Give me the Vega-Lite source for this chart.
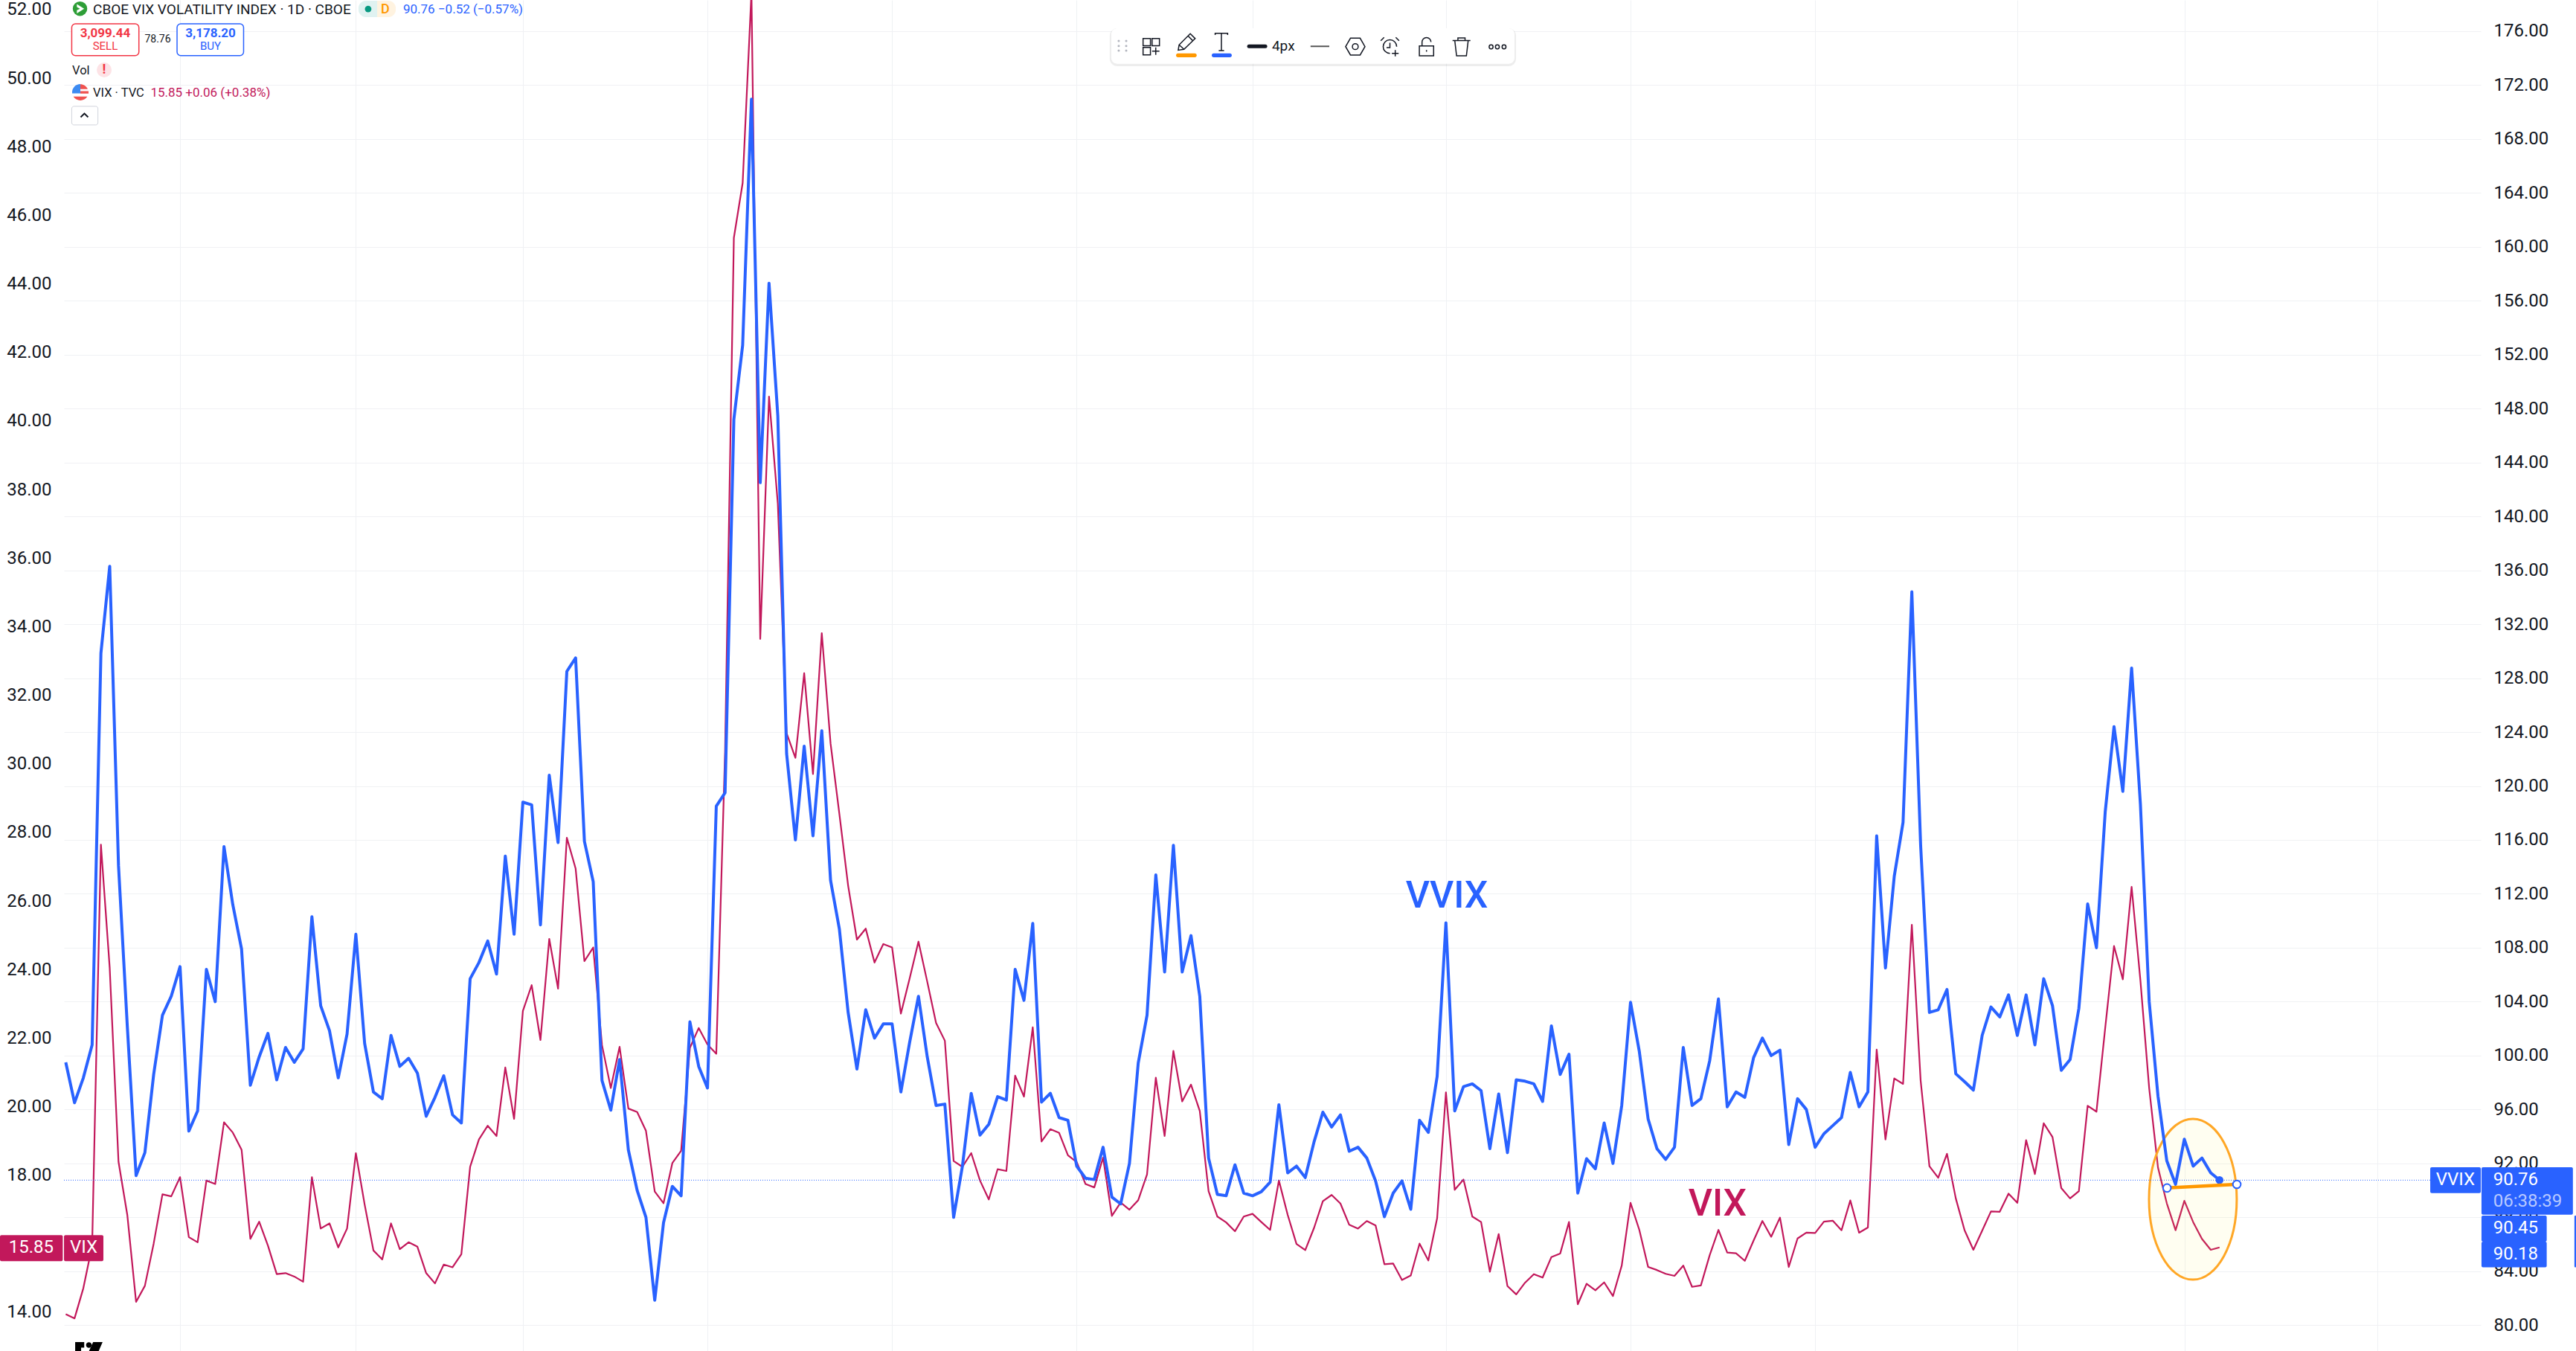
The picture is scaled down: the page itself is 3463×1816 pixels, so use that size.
{"$schema":"https://vega.github.io/schema/vega-lite/v6.json","width":3249,"height":1816,"autosize":{"type":"none"},"padding":{"left":86,"right":128,"top":0,"bottom":0},"background":"#ffffff","config":{"view":{"stroke":null},"text":{"font":"Roboto"}},
"datasets":{
"vvix":[{"t":0,"v":99.5},{"t":1,"v":96.5},{"t":2,"v":98.35},{"t":3,"v":100.8},{"t":4,"v":129.85},{"t":5,"v":136.3},{"t":6,"v":114.1},{"t":7,"v":102.2},{"t":8,"v":91.1},{"t":9,"v":92.8},{"t":10,"v":98.6},{"t":11,"v":103.0},{"t":12,"v":104.4},{"t":13,"v":106.6},{"t":14,"v":94.4},{"t":15,"v":95.9},{"t":16,"v":106.4},{"t":17,"v":104.0},{"t":18,"v":115.5},{"t":19,"v":111.2},{"t":20,"v":107.9},{"t":21,"v":97.8},{"t":22,"v":99.9},{"t":23,"v":101.65},{"t":24,"v":98.2},{"t":25,"v":100.6},{"t":26,"v":99.5},{"t":27,"v":100.5},{"t":28,"v":110.3},{"t":29,"v":103.7},{"t":30,"v":101.85},{"t":31,"v":98.35},{"t":32,"v":101.6},{"t":33,"v":109.0},{"t":34,"v":100.9},{"t":35,"v":97.3},{"t":36,"v":96.8},{"t":37,"v":101.5},{"t":38,"v":99.2},{"t":39,"v":99.8},{"t":40,"v":98.7},{"t":41,"v":95.5},{"t":42,"v":96.9},{"t":43,"v":98.5},{"t":44,"v":95.6},{"t":45,"v":95.0},{"t":46,"v":105.7},{"t":47,"v":106.9},{"t":48,"v":108.5},{"t":49,"v":106.05},{"t":50,"v":114.8},{"t":51,"v":109.0},{"t":52,"v":118.8},{"t":53,"v":118.6},{"t":54,"v":109.7},{"t":55,"v":120.8},{"t":56,"v":115.8},{"t":57,"v":128.5},{"t":58,"v":129.5},{"t":59,"v":115.9},{"t":60,"v":112.9},{"t":61,"v":98.15},{"t":62,"v":95.95},{"t":63,"v":99.7},{"t":64,"v":93.0},{"t":65,"v":90.0},{"t":66,"v":88.0},{"t":67,"v":81.85},{"t":68,"v":87.6},{"t":69,"v":90.3},{"t":70,"v":89.6},{"t":71,"v":102.5},{"t":72,"v":99.2},{"t":73,"v":97.6},{"t":74,"v":118.5},{"t":75,"v":119.5},{"t":76,"v":147.2},{"t":77,"v":152.7},{"t":78,"v":170.95},{"t":79,"v":142.5},{"t":80,"v":157.3},{"t":81,"v":147.45},{"t":82,"v":122.4},{"t":83,"v":116.0},{"t":84,"v":122.95},{"t":85,"v":116.3},{"t":86,"v":124.1},{"t":87,"v":113.0},{"t":88,"v":109.4},{"t":89,"v":103.2},{"t":90,"v":99.0},{"t":91,"v":103.4},{"t":92,"v":101.3},{"t":93,"v":102.35},{"t":94,"v":102.35},{"t":95,"v":97.3},{"t":96,"v":101.0},{"t":97,"v":104.4},{"t":98,"v":99.9},{"t":99,"v":96.3},{"t":100,"v":96.4},{"t":101,"v":88.0},{"t":102,"v":91.8},{"t":103,"v":97.2},{"t":104,"v":94.1},{"t":105,"v":94.9},{"t":106,"v":96.95},{"t":107,"v":96.7},{"t":108,"v":106.4},{"t":109,"v":104.1},{"t":110,"v":109.8},{"t":111,"v":96.55},{"t":112,"v":97.2},{"t":113,"v":95.4},{"t":114,"v":95.2},{"t":115,"v":91.8},{"t":116,"v":90.9},{"t":117,"v":90.8},{"t":118,"v":93.2},{"t":119,"v":89.5},{"t":120,"v":89.0},{"t":121,"v":92.0},{"t":122,"v":99.45},{"t":123,"v":103.0},{"t":124,"v":113.4},{"t":125,"v":106.2},{"t":126,"v":115.6},{"t":127,"v":106.2},{"t":128,"v":108.9},{"t":129,"v":104.4},{"t":130,"v":92.4},{"t":131,"v":89.7},{"t":132,"v":89.6},{"t":133,"v":91.9},{"t":134,"v":89.8},{"t":135,"v":89.6},{"t":136,"v":89.9},{"t":137,"v":90.6},{"t":138,"v":96.35},{"t":139,"v":91.3},{"t":140,"v":91.8},{"t":141,"v":90.95},{"t":142,"v":93.6},{"t":143,"v":95.8},{"t":144,"v":94.7},{"t":145,"v":95.6},{"t":146,"v":92.9},{"t":147,"v":93.2},{"t":148,"v":92.4},{"t":149,"v":90.7},{"t":150,"v":88.05},{"t":151,"v":89.8},{"t":152,"v":90.7},{"t":153,"v":88.6},{"t":154,"v":95.2},{"t":155,"v":94.3},{"t":156,"v":98.45},{"t":157,"v":109.85},{"t":158,"v":95.9},{"t":159,"v":97.7},{"t":160,"v":97.9},{"t":161,"v":97.4},{"t":162,"v":93.1},{"t":163,"v":97.15},{"t":164,"v":92.8},{"t":165,"v":98.2},{"t":166,"v":98.1},{"t":167,"v":97.9},{"t":168,"v":96.6},{"t":169,"v":102.2},{"t":170,"v":98.6},{"t":171,"v":100.1},{"t":172,"v":89.8},{"t":173,"v":92.35},{"t":174,"v":91.6},{"t":175,"v":95.0},{"t":176,"v":92.0},{"t":177,"v":96.3},{"t":178,"v":103.95},{"t":179,"v":100.3},{"t":180,"v":95.3},{"t":181,"v":93.1},{"t":182,"v":92.3},{"t":183,"v":93.2},{"t":184,"v":100.6},{"t":185,"v":96.3},{"t":186,"v":96.8},{"t":187,"v":99.6},{"t":188,"v":104.2},{"t":189,"v":96.2},{"t":190,"v":97.3},{"t":191,"v":96.9},{"t":192,"v":99.85},{"t":193,"v":101.3},{"t":194,"v":100.0},{"t":195,"v":100.4},{"t":196,"v":93.4},{"t":197,"v":96.8},{"t":198,"v":96.0},{"t":199,"v":93.2},{"t":200,"v":94.2},{"t":201,"v":94.8},{"t":202,"v":95.4},{"t":203,"v":98.75},{"t":204,"v":96.2},{"t":205,"v":97.3},{"t":206,"v":116.3},{"t":207,"v":106.5},{"t":208,"v":113.3},{"t":209,"v":117.3},{"t":210,"v":134.4},{"t":211,"v":115.6},{"t":212,"v":103.2},{"t":213,"v":103.4},{"t":214,"v":104.9},{"t":215,"v":98.65},{"t":216,"v":98.06},{"t":217,"v":97.44},{"t":218,"v":101.5},{"t":219,"v":103.6},{"t":220,"v":102.87},{"t":221,"v":104.5},{"t":222,"v":101.5},{"t":223,"v":104.5},{"t":224,"v":100.8},{"t":225,"v":105.7},{"t":226,"v":103.7},{"t":227,"v":98.9},{"t":228,"v":99.7},{"t":229,"v":103.5},{"t":230,"v":111.25},{"t":231,"v":108.0},{"t":232,"v":118.1},{"t":233,"v":124.4},{"t":234,"v":119.6},{"t":235,"v":128.75},{"t":236,"v":118.65},{"t":237,"v":104.0},{"t":238,"v":97.0},{"t":239,"v":92.2},{"t":240,"v":90.45},{"t":241,"v":93.8},{"t":242,"v":91.8},{"t":243,"v":92.4},{"t":244,"v":91.3},{"t":245,"v":90.76}],
"vix":[{"t":0,"v":13.9},{"t":1,"v":13.78},{"t":2,"v":14.66},{"t":3,"v":15.9},{"t":4,"v":27.6},{"t":5,"v":24.0},{"t":6,"v":18.35},{"t":7,"v":16.8},{"t":8,"v":14.26},{"t":9,"v":14.73},{"t":10,"v":15.96},{"t":11,"v":17.4},{"t":12,"v":17.34},{"t":13,"v":17.9},{"t":14,"v":16.15},{"t":15,"v":16.0},{"t":16,"v":17.8},{"t":17,"v":17.7},{"t":18,"v":19.5},{"t":19,"v":19.2},{"t":20,"v":18.7},{"t":21,"v":16.1},{"t":22,"v":16.6},{"t":23,"v":15.9},{"t":24,"v":15.07},{"t":25,"v":15.1},{"t":26,"v":15.0},{"t":27,"v":14.85},{"t":28,"v":17.9},{"t":29,"v":16.4},{"t":30,"v":16.55},{"t":31,"v":15.85},{"t":32,"v":16.4},{"t":33,"v":18.6},{"t":34,"v":17.1},{"t":35,"v":15.76},{"t":36,"v":15.5},{"t":37,"v":16.55},{"t":38,"v":15.8},{"t":39,"v":16.0},{"t":40,"v":15.87},{"t":41,"v":15.1},{"t":42,"v":14.8},{"t":43,"v":15.35},{"t":44,"v":15.27},{"t":45,"v":15.65},{"t":46,"v":18.2},{"t":47,"v":19.0},{"t":48,"v":19.4},{"t":49,"v":19.1},{"t":50,"v":21.1},{"t":51,"v":19.6},{"t":52,"v":22.75},{"t":53,"v":23.5},{"t":54,"v":21.9},{"t":55,"v":24.85},{"t":56,"v":23.4},{"t":57,"v":27.8},{"t":58,"v":26.9},{"t":59,"v":24.2},{"t":60,"v":24.6},{"t":61,"v":21.75},{"t":62,"v":20.5},{"t":63,"v":21.7},{"t":64,"v":19.9},{"t":65,"v":19.8},{"t":66,"v":19.25},{"t":67,"v":17.48},{"t":68,"v":17.14},{"t":69,"v":18.31},{"t":70,"v":18.67},{"t":71,"v":21.67},{"t":72,"v":22.25},{"t":73,"v":21.77},{"t":74,"v":21.5},{"t":75,"v":30.32},{"t":76,"v":45.3},{"t":77,"v":46.9},{"t":78,"v":52.45},{"t":79,"v":33.6},{"t":80,"v":40.67},{"t":81,"v":37.55},{"t":82,"v":30.85},{"t":83,"v":30.13},{"t":84,"v":32.6},{"t":85,"v":29.66},{"t":86,"v":33.77},{"t":87,"v":30.55},{"t":88,"v":28.5},{"t":89,"v":26.4},{"t":90,"v":24.83},{"t":91,"v":25.15},{"t":92,"v":24.16},{"t":93,"v":24.7},{"t":94,"v":24.6},{"t":95,"v":22.67},{"t":96,"v":23.7},{"t":97,"v":24.77},{"t":98,"v":23.6},{"t":99,"v":22.4},{"t":100,"v":21.88},{"t":101,"v":18.37},{"t":102,"v":18.2},{"t":103,"v":18.6},{"t":104,"v":17.8},{"t":105,"v":17.25},{"t":106,"v":18.13},{"t":107,"v":18.08},{"t":108,"v":20.86},{"t":109,"v":20.25},{"t":110,"v":22.27},{"t":111,"v":18.94},{"t":112,"v":19.3},{"t":113,"v":19.19},{"t":114,"v":18.54},{"t":115,"v":18.34},{"t":116,"v":17.7},{"t":117,"v":17.6},{"t":118,"v":18.47},{"t":119,"v":16.77},{"t":120,"v":17.16},{"t":121,"v":16.95},{"t":122,"v":17.23},{"t":123,"v":17.98},{"t":124,"v":20.8},{"t":125,"v":19.1},{"t":126,"v":21.58},{"t":127,"v":20.11},{"t":128,"v":20.6},{"t":129,"v":19.83},{"t":130,"v":17.49},{"t":131,"v":16.75},{"t":132,"v":16.58},{"t":133,"v":16.32},{"t":134,"v":16.75},{"t":135,"v":16.83},{"t":136,"v":16.59},{"t":137,"v":16.36},{"t":138,"v":17.8},{"t":139,"v":16.8},{"t":140,"v":15.95},{"t":141,"v":15.77},{"t":142,"v":16.42},{"t":143,"v":17.2},{"t":144,"v":17.38},{"t":145,"v":17.13},{"t":146,"v":16.51},{"t":147,"v":16.4},{"t":148,"v":16.62},{"t":149,"v":16.49},{"t":150,"v":15.36},{"t":151,"v":15.38},{"t":152,"v":14.9},{"t":153,"v":15.03},{"t":154,"v":15.96},{"t":155,"v":15.47},{"t":156,"v":16.7},{"t":157,"v":20.37},{"t":158,"v":17.53},{"t":159,"v":17.83},{"t":160,"v":16.75},{"t":161,"v":16.59},{"t":162,"v":15.14},{"t":163,"v":16.24},{"t":164,"v":14.72},{"t":165,"v":14.48},{"t":166,"v":14.82},{"t":167,"v":15.07},{"t":168,"v":14.97},{"t":169,"v":15.57},{"t":170,"v":15.67},{"t":171,"v":16.59},{"t":172,"v":14.19},{"t":173,"v":14.79},{"t":174,"v":14.6},{"t":175,"v":14.83},{"t":176,"v":14.43},{"t":177,"v":15.32},{"t":178,"v":17.15},{"t":179,"v":16.36},{"t":180,"v":15.28},{"t":181,"v":15.19},{"t":182,"v":15.08},{"t":183,"v":15.02},{"t":184,"v":15.32},{"t":185,"v":14.7},{"t":186,"v":14.74},{"t":187,"v":15.62},{"t":188,"v":16.36},{"t":189,"v":15.7},{"t":190,"v":15.68},{"t":191,"v":15.46},{"t":192,"v":16.05},{"t":193,"v":16.62},{"t":194,"v":16.16},{"t":195,"v":16.72},{"t":196,"v":15.28},{"t":197,"v":16.11},{"t":198,"v":16.28},{"t":199,"v":16.27},{"t":200,"v":16.6},{"t":201,"v":16.63},{"t":202,"v":16.35},{"t":203,"v":17.22},{"t":204,"v":16.28},{"t":205,"v":16.43},{"t":206,"v":21.62},{"t":207,"v":19.0},{"t":208,"v":20.78},{"t":209,"v":20.62},{"t":210,"v":25.26},{"t":211,"v":20.72},{"t":212,"v":18.22},{"t":213,"v":17.88},{"t":214,"v":18.58},{"t":215,"v":17.28},{"t":216,"v":16.35},{"t":217,"v":15.78},{"t":218,"v":16.34},{"t":219,"v":16.9},{"t":220,"v":16.89},{"t":221,"v":17.42},{"t":222,"v":17.15},{"t":223,"v":18.98},{"t":224,"v":17.99},{"t":225,"v":19.47},{"t":226,"v":19.07},{"t":227,"v":17.58},{"t":228,"v":17.28},{"t":229,"v":17.49},{"t":230,"v":19.98},{"t":231,"v":19.81},{"t":232,"v":22.26},{"t":233,"v":24.64},{"t":234,"v":23.67},{"t":235,"v":26.37},{"t":236,"v":23.64},{"t":237,"v":20.49},{"t":238,"v":18.18},{"t":239,"v":17.14},{"t":240,"v":16.35},{"t":241,"v":17.21},{"t":242,"v":16.59},{"t":243,"v":16.1},{"t":244,"v":15.78},{"t":245,"v":15.85}]
},
"encoding":{"x":{"field":"t","type":"quantitative","scale":{"domain":[-0.2031,274.72],"nice":false,"zero":false},"axis":{"title":null,"labels":false,"ticks":false,"domain":false,"grid":true,"gridColor":"#eff1f4","gridWidth":1,"values":[13,33,52,73,94,115,135,157,178,199,222,241,263]}}},
"layer":[
{"encoding":{"y":{"field":"v","type":"quantitative","scale":{"domain":[12.828,52.238],"nice":false,"zero":false},"axis":{"title":null,"orient":"left","values":[14,16,18,20,22,24,26,28,30,32,34,36,38,40,42,44,46,48,50,52],"format":".2f","ticks":false,"domain":false,"grid":false,"labelFont":"Roboto","labelFontSize":24,"labelColor":"#131722","labelPadding":17,"labelOffset":2,"labelOverlap":false,"labelBound":false,"labelFlush":false}}},
"layer":[
{"data":{"name":"vix"},"mark":{"type":"line","color":"#C2185B","strokeWidth":2.2,"strokeJoin":"round","clip":true}},
{"data":{"values":[{"t":-7.48,"t2":-0.34,"v":16.21,"v2":15.45},{"t":-0.2,"t2":4.28,"v":16.21,"v2":15.45}]},"mark":{"type":"rect","color":"#C2185B","cornerRadius":2},"encoding":{"x2":{"field":"t2"},"y2":{"field":"v2"}}},
{"data":{"values":[{"t":-3.93,"v":15.85,"label":"15.85"},{"t":2.04,"v":15.85,"label":"VIX"}]},"mark":{"type":"text","color":"#ffffff","fontSize":24,"align":"center","baseline":"middle"},"encoding":{"text":{"field":"label"}}}
]},
{"encoding":{"y":{"field":"v","type":"quantitative","scale":{"domain":[78.085,178.307],"nice":false,"zero":false},"axis":{"title":null,"orient":"right","values":[80,84,88,92,96,100,104,108,112,116,120,124,128,132,136,140,144,148,152,156,160,164,168,172,176],"format":".2f","ticks":false,"domain":false,"grid":true,"gridColor":"#f0f1f4","gridWidth":1,"labelFont":"Roboto","labelFontSize":24,"labelColor":"#131722","labelPadding":17,"labelOverlap":false,"labelBound":false,"labelFlush":false}}},
"layer":[
{"data":{"values":[{"t":241.97,"v":89.34}]},"mark":{"type":"point","shape":"M-0.546,0A0.546,1 0 1 0 0.546,0A0.546,1 0 1 0 -0.546,0Z","size":46656,"filled":true,"fill":"#FFEB3B","fillOpacity":0.07,"stroke":"#FFA726","strokeWidth":3,"opacity":1}},
{"data":{"values":[{"t":-0.2,"t2":268.97,"v":90.76}]},"mark":{"type":"rule","color":"#2962FF","strokeWidth":1,"strokeDash":[1,2]},"encoding":{"x2":{"field":"t2"}}},
{"data":{"name":"vvix"},"mark":{"type":"line","color":"#2962FF","strokeWidth":4,"strokeJoin":"round"}},
{"data":{"values":[{"t":245,"v":90.76}]},"mark":{"type":"point","shape":"circle","size":113,"filled":true,"color":"#2962FF","opacity":1}},
{"data":{"values":[{"t":239.03,"v":90.18},{"t":246.97,"v":90.45}]},"mark":{"type":"line","color":"#FF9800","strokeWidth":4.5}},
{"data":{"values":[{"t":239.03,"v":90.18},{"t":246.97,"v":90.45}]},"mark":{"type":"point","shape":"circle","size":113,"filled":true,"fill":"#ffffff","stroke":"#2962FF","strokeWidth":2,"opacity":1}},
{"data":{"values":[{"t":268.97,"t2":274.72,"v":91.72,"v2":89.8},{"t":274.8,"t2":285.2,"v":91.72,"v2":88.2},{"t":274.8,"t2":282.22,"v":88.13,"v2":86.2},{"t":274.8,"t2":282.22,"v":86.2,"v2":84.29},{"t":285.37,"t2":285.6,"v":88.13,"v2":84.29}]},"mark":{"type":"rect","color":"#2962FF","cornerRadius":2},"encoding":{"x2":{"field":"t2"},"y2":{"field":"v2"}}},
{"data":{"values":[{"t":276.14,"v":90.76,"label":"90.76"},{"t":276.14,"v":87.2,"label":"90.45"},{"t":276.14,"v":85.26,"label":"90.18"}]},"mark":{"type":"text","color":"#ffffff","fontSize":24,"align":"left","baseline":"middle"},"encoding":{"text":{"field":"label"}}},
{"data":{"values":[{"t":276.14,"v":89.18,"label":"06:38:39"}]},"mark":{"type":"text","color":"#B8C9FF","fontSize":24,"align":"left","baseline":"middle"},"encoding":{"text":{"field":"label"}}},
{"data":{"values":[{"t":271.84,"v":90.76,"label":"VVIX"}]},"mark":{"type":"text","color":"#ffffff","fontSize":24,"align":"center","baseline":"middle"},"encoding":{"text":{"field":"label"}}},
{"data":{"values":[{"t":157.1,"v":111.8,"label":"VVIX"}]},"mark":{"type":"text","color":"#2962FF","fontSize":50,"fontWeight":500,"align":"center","baseline":"middle"},"encoding":{"text":{"field":"label"}}},
{"data":{"values":[{"t":187.9,"v":88.95,"label":"VIX"}]},"mark":{"type":"text","color":"#C2185B","fontSize":50,"fontWeight":500,"align":"center","baseline":"middle"},"encoding":{"text":{"field":"label"}}},
{"data":{"values":[{"t":1.62,"v":177.66}]},"mark":{"type":"point","shape":"circle","size":380,"filled":true,"color":"#2E9E37","opacity":1}},
{"data":{"values":[{"t":1.62,"v":177.66}]},"mark":{"type":"point","shape":"M-0.6,-0.9L0.8,0L-0.6,0.9L-0.6,0.3L0,0L-0.6,-0.3Z","size":196,"filled":true,"color":"#ffffff","opacity":1}},
{"data":{"values":[{"t":3.1,"v":177.59,"label":"CBOE VIX VOLATILITY INDEX · 1D · CBOE"}]},"mark":{"type":"text","color":"#131722","fontSize":19,"align":"left","baseline":"middle"},"encoding":{"text":{"field":"label"}}},
{"data":{"values":[{"t":0.73,"v":173.06,"label":"Vol"},{"t":3.1,"v":171.41,"label":"VIX · TVC"}]},"mark":{"type":"text","color":"#131722","fontSize":16.5,"align":"left","baseline":"middle"},"encoding":{"text":{"field":"label"}}},
{"data":{"values":[{"t":38.38,"v":177.59,"label":"90.76 −0.52 (−0.57%)"}]},"mark":{"type":"text","color":"#2962FF","fontSize":17,"align":"left","baseline":"middle"},"encoding":{"text":{"field":"label"}}},
{"data":{"values":[{"t":9.65,"v":171.41,"label":"15.85 +0.06 (+0.38%)"}]},"mark":{"type":"text","color":"#C2185B","fontSize":17,"align":"left","baseline":"middle"},"encoding":{"text":{"field":"label"}}},
{"data":{"values":[{"t":33.3,"t2":35.42,"v":178.25,"v2":177.04}]},"mark":{"type":"rect","color":"#E0F2F1","cornerRadiusTopLeft":10,"cornerRadiusBottomLeft":10},"encoding":{"x2":{"field":"t2"},"y2":{"field":"v2"}}},
{"data":{"values":[{"t":35.42,"t2":37.54,"v":178.25,"v2":177.04}]},"mark":{"type":"rect","color":"#FFF3E0","cornerRadiusTopRight":10,"cornerRadiusBottomRight":10},"encoding":{"x2":{"field":"t2"},"y2":{"field":"v2"}}},
{"data":{"values":[{"t":34.4,"v":177.64}]},"mark":{"type":"point","shape":"circle","size":78,"filled":true,"color":"#089981","opacity":1}},
{"data":{"values":[{"t":36.35,"v":177.59,"label":"D"}]},"mark":{"type":"text","color":"#FF9800","fontSize":18,"fontWeight":500,"align":"center","baseline":"middle"},"encoding":{"text":{"field":"label"}}},
{"data":{"values":[{"t":0.68,"t2":8.32,"v":176.54,"v2":174.18}]},"mark":{"type":"rect","fill":"#ffffff","stroke":"#F23645","strokeWidth":1.5,"cornerRadius":5},"encoding":{"x2":{"field":"t2"},"y2":{"field":"v2"}}},
{"data":{"values":[{"t":12.66,"t2":20.23,"v":176.54,"v2":174.18}]},"mark":{"type":"rect","fill":"#ffffff","stroke":"#2962FF","strokeWidth":1.5,"cornerRadius":5},"encoding":{"x2":{"field":"t2"},"y2":{"field":"v2"}}},
{"data":{"values":[{"t":4.49,"v":175.82,"label":"3,099.44"}]},"mark":{"type":"text","color":"#F23645","fontSize":17,"fontWeight":700,"align":"center","baseline":"middle"},"encoding":{"text":{"field":"label"}}},
{"data":{"values":[{"t":4.49,"v":174.89,"label":"SELL"}]},"mark":{"type":"text","color":"#F23645","fontSize":15,"align":"center","baseline":"middle"},"encoding":{"text":{"field":"label"}}},
{"data":{"values":[{"t":16.47,"v":175.82,"label":"3,178.20"}]},"mark":{"type":"text","color":"#2962FF","fontSize":17,"fontWeight":700,"align":"center","baseline":"middle"},"encoding":{"text":{"field":"label"}}},
{"data":{"values":[{"t":16.47,"v":174.89,"label":"BUY"}]},"mark":{"type":"text","color":"#2962FF","fontSize":15,"align":"center","baseline":"middle"},"encoding":{"text":{"field":"label"}}},
{"data":{"values":[{"t":10.46,"v":175.38,"label":"78.76"}]},"mark":{"type":"text","color":"#131722","fontSize":14,"align":"center","baseline":"middle"},"encoding":{"text":{"field":"label"}}},
{"data":{"values":[{"t":4.37,"v":173.12}]},"mark":{"type":"point","shape":"circle","size":400,"filled":true,"color":"#FDE3E6","opacity":1}},
{"data":{"values":[{"t":4.37,"v":173.12,"label":"!"}]},"mark":{"type":"text","color":"#F23645","fontSize":18,"fontWeight":700,"align":"center","baseline":"middle"},"encoding":{"text":{"field":"label"}}},
{"data":{"values":[{"t":1.66,"v":171.46}]},"mark":{"type":"point","shape":"circle","size":380,"filled":true,"color":"#ffffff","opacity":1}},
{"data":{"values":[{"t":1.66,"v":171.46}]},"mark":{"type":"point","shape":"M-0.85,0.52A1,1 0 0 0 0.85,0.52ZM0,-0.98A1,1 0 0 1 0.9,-0.4H0ZM0,-0.15H1V0.15H0Z","size":484,"filled":true,"color":"#F0524F","opacity":1}},
{"data":{"values":[{"t":1.66,"v":171.46}]},"mark":{"type":"point","shape":"M-1,0.12A1,1 0 0 1 0,-1V0.12Z","size":484,"filled":true,"color":"#3D8BF2","opacity":1}},
{"data":{"values":[{"t":0.68,"t2":3.66,"v":170.42,"v2":169.04}]},"mark":{"type":"rect","fill":"#ffffff","stroke":"#d1d4dc","strokeWidth":1,"cornerRadius":3},"encoding":{"x2":{"field":"t2"},"y2":{"field":"v2"}}},
{"data":{"values":[{"t":2.12,"v":169.75}]},"mark":{"type":"point","shape":"M-1,0.5L0,-0.5L1,0.5","size":100,"filled":false,"stroke":"#131722","strokeWidth":2,"opacity":1}},
{"data":{"values":[{"t":2.63,"v":77.7}]},"mark":{"type":"point","shape":"M-0.97,-1H-0.33V-0.6H-0.55V1H-0.97ZM0.3,-1H0.97L0.45,0.2H-0.25ZM-0.2,-0.79A0.2,0.2 0 1 0 0.2,-0.79A0.2,0.2 0 1 0 -0.2,-0.79Z","size":1444,"filled":true,"color":"#000000","opacity":1}},
{"data":{"values":[{"t":118.76,"t2":164.97,"v":176.21,"v2":173.4}]},"mark":{"type":"rect","color":"#000000","opacity":0.07,"cornerRadius":10},"encoding":{"x2":{"field":"t2"},"y2":{"field":"v2"}}},
{"data":{"values":[{"t":118.93,"t2":164.8,"v":176.21,"v2":173.58}]},"mark":{"type":"rect","color":"#ffffff","cornerRadius":8},"encoding":{"x2":{"field":"t2"},"y2":{"field":"v2"}}},
{"data":{"values":[{"t":119.78,"v":175.27},{"t":119.78,"v":174.9},{"t":119.78,"v":174.55},{"t":120.63,"v":175.27},{"t":120.63,"v":174.9},{"t":120.63,"v":174.55}]},"mark":{"type":"point","shape":"circle","size":9,"filled":true,"color":"#b2b5be","opacity":1}},
{"data":{"values":[{"t":123.48,"v":174.85}]},"mark":{"type":"point","shape":"M-1,-1H-0.1V-0.1H-1ZM0.1,-1H1V-0.1H0.1ZM-1,0.1H-0.1V1H-1ZM0.55,0.1V1M0.1,0.55H1","size":484,"filled":false,"stroke":"#131722","strokeWidth":1.5,"opacity":1}},
{"data":{"values":[{"t":127.46,"v":175.18}]},"mark":{"type":"point","shape":"M-0.9,0.9L-0.8,0.3L0.45,-0.95L1,-0.4L-0.25,0.8ZM-0.8,0.3L-0.25,0.8M0.2,-0.7L0.75,-0.15","size":576,"filled":false,"stroke":"#131722","strokeWidth":1.5,"opacity":1}},
{"data":{"values":[{"t":131.46,"v":175.18}]},"mark":{"type":"point","shape":"M-0.7,-0.8V-1H0.7V-0.8M0,-1V0.95M-0.3,0.95H0.3","size":576,"filled":false,"stroke":"#131722","strokeWidth":1.5,"opacity":1}},
{"data":{"values":[{"t":126.3,"t2":128.65,"v":174.35,"v2":174.06}]},"mark":{"type":"rect","color":"#FF9800","cornerRadius":2.5},"encoding":{"x2":{"field":"t2"},"y2":{"field":"v2"}}},
{"data":{"values":[{"t":130.36,"t2":132.64,"v":174.35,"v2":174.06}]},"mark":{"type":"rect","color":"#2962FF","cornerRadius":2.5},"encoding":{"x2":{"field":"t2"},"y2":{"field":"v2"}}},
{"data":{"values":[{"t":134.6,"t2":136.46,"v":174.87}]},"mark":{"type":"rule","color":"#131722","strokeWidth":5,"strokeCap":"round"},"encoding":{"x2":{"field":"t2"}}},
{"data":{"values":[{"t":137.21,"v":174.87,"label":"4px"}]},"mark":{"type":"text","color":"#131722","fontSize":19,"align":"left","baseline":"middle"},"encoding":{"text":{"field":"label"}}},
{"data":{"values":[{"t":141.6,"t2":143.73,"v":174.87}]},"mark":{"type":"rule","color":"#555555","strokeWidth":2},"encoding":{"x2":{"field":"t2"}}},
{"data":{"values":[{"t":146.69,"v":174.85}]},"mark":{"type":"point","shape":"M-1,0L-0.5,-0.87L0.5,-0.87L1,0L0.5,0.87L-0.5,0.87ZM0.3,0A0.3,0.3 0 1 1 -0.3,0A0.3,0.3 0 1 1 0.3,0Z","size":676,"filled":false,"stroke":"#131722","strokeWidth":1.5,"opacity":1}},
{"data":{"values":[{"t":150.63,"v":174.85}]},"mark":{"type":"point","shape":"M0.7,0A0.7,0.7 0 1 0 0,0.7M0,-0.4V0.1H-0.35M-0.95,-0.6L-0.6,-0.95M0.95,-0.6L0.6,-0.95M0.55,0.35V1M0.2,0.7H0.9","size":676,"filled":false,"stroke":"#131722","strokeWidth":1.5,"opacity":1}},
{"data":{"values":[{"t":154.79,"v":174.83}]},"mark":{"type":"point","shape":"M-0.8,-0.1H0.8V1H-0.8ZM-0.5,-0.1V-0.55A0.5,0.5 0 0 1 0.5,-0.55M0,0.35V0.55","size":576,"filled":false,"stroke":"#131722","strokeWidth":1.5,"opacity":1}},
{"data":{"values":[{"t":158.77,"v":174.83}]},"mark":{"type":"point","shape":"M-1,-0.7H1M-0.4,-0.7V-1H0.4V-0.7M-0.75,-0.7L-0.55,1H0.55L0.75,-0.7","size":576,"filled":false,"stroke":"#131722","strokeWidth":1.5,"opacity":1}},
{"data":{"values":[{"t":162.14,"v":174.83},{"t":162.85,"v":174.83},{"t":163.61,"v":174.83}]},"mark":{"type":"point","shape":"circle","size":28,"filled":false,"stroke":"#131722","strokeWidth":1.5,"opacity":1}}
]}
],
"resolve":{"scale":{"y":"independent"}}}
